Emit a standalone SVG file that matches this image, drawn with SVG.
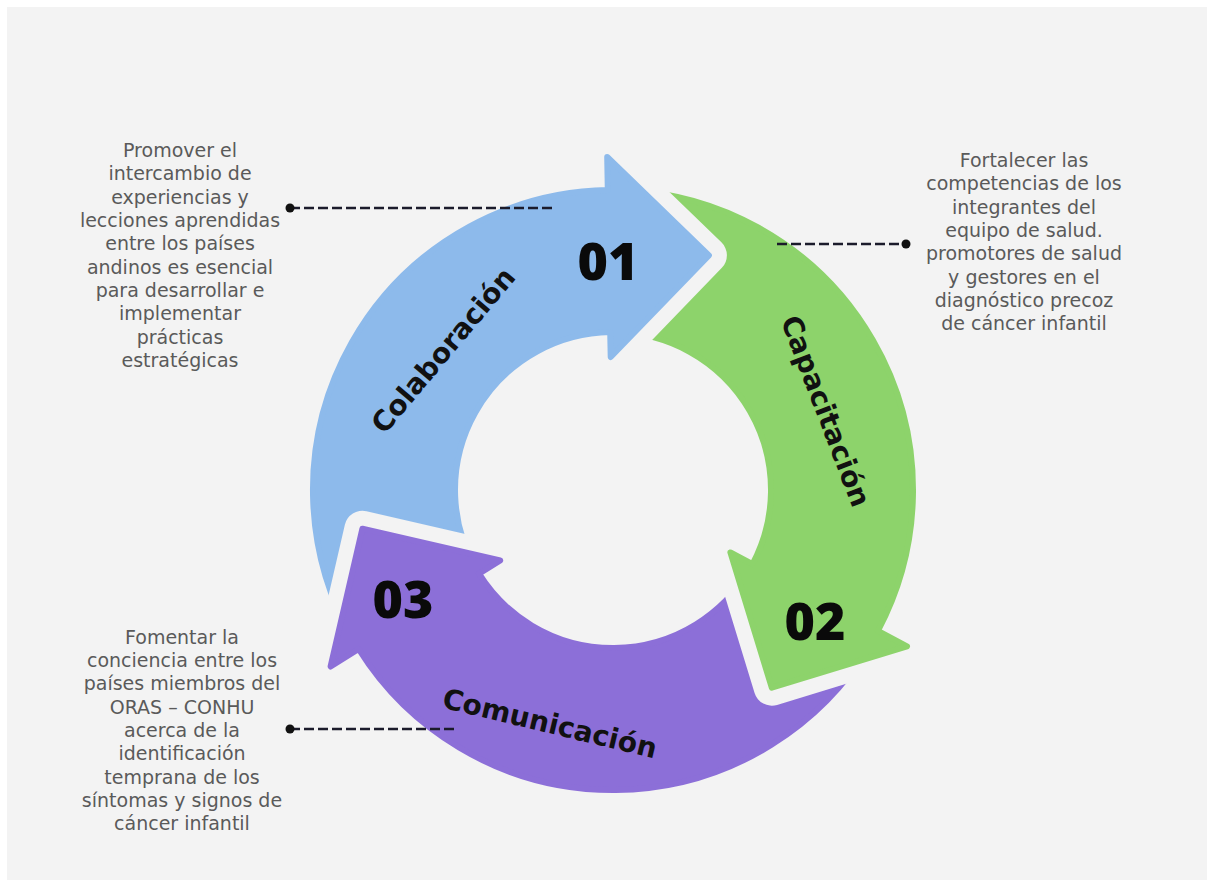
<svg xmlns="http://www.w3.org/2000/svg" width="1212" height="885" viewBox="0 0 1212 885">
<style>
.desc{font-family:"DejaVu Sans","Liberation Sans",sans-serif;font-size:19px;fill:#5a5a5a;text-anchor:middle}
.lbl{font-family:"DejaVu Sans","Liberation Sans",sans-serif;font-weight:bold;font-size:28px;fill:#111;text-anchor:middle}
.num{font-family:"Open Sans","DejaVu Sans",sans-serif;font-weight:800;font-size:52px;fill:#0a0a0a;text-anchor:middle}
.conn{stroke:#1b1b2b;stroke-width:2.6;stroke-dasharray:10 4;fill:none}
.dot{fill:#111}
.halo{fill:none;stroke:#f7f7f7;stroke-width:34;stroke-linejoin:round}
</style>
<defs>
<path id="pBlue" d="M476.2,569.0 L353.2,640.0 A300,300 0 0 1 607.8,190.0 L607.2,157.0 L708.9,255.3 L610.7,357.0 L610.2,332.0 A158,158 0 0 0 476.2,569.0 Z"/>
<path id="pGreen" d="M618.5,332.1 L623.5,190.2 A300,300 0 0 1 877.9,630.8 L907.0,646.3 L771.8,687.7 L730.4,552.4 L752.5,564.2 A158,158 0 0 0 618.5,332.1 Z"/>
<path id="pPurple" d="M748.4,571.4 L870.2,644.5 A300,300 0 0 1 358.6,649.0 L330.6,666.5 L362.4,528.7 L500.2,560.5 L479.0,573.7 A158,158 0 0 0 748.4,571.4 Z"/>
<mask id="mBlue" maskUnits="userSpaceOnUse" x="0" y="0" width="1212" height="885">
<rect x="0" y="0" width="1212" height="885" fill="#fff"/>
<polygon points="330.6,666.5 362.4,528.7 500.2,560.5" fill="#000" stroke="#000" stroke-width="36" stroke-linejoin="round"/>
</mask>
<mask id="mGreen" maskUnits="userSpaceOnUse" x="0" y="0" width="1212" height="885">
<rect x="0" y="0" width="1212" height="885" fill="#fff"/>
<polygon points="607.2,157.0 708.9,255.3 610.7,357.0" fill="#000" stroke="#000" stroke-width="36" stroke-linejoin="round"/>
</mask>
<mask id="mPurple" maskUnits="userSpaceOnUse" x="0" y="0" width="1212" height="885">
<rect x="0" y="0" width="1212" height="885" fill="#fff"/>
<polygon points="907.0,646.3 771.8,687.7 730.4,552.4" fill="#000" stroke="#000" stroke-width="36" stroke-linejoin="round"/>
</mask>
</defs>
<rect x="0" y="0" width="1212" height="885" fill="#ffffff"/>
<rect x="7" y="7" width="1200" height="873" fill="#f3f3f3"/>

<g id="node-colaboracion">
<use href="#pBlue" fill="#8dbaeb" stroke="#8dbaeb" stroke-width="6" stroke-linejoin="round" mask="url(#mBlue)"/>
<text class="lbl" transform="translate(443,350) rotate(-50)" y="10">Colaboración</text>
<text class="num" x="608" y="280">01</text>
</g>

<g id="node-capacitacion">
<use href="#pGreen" fill="#8dd36b" stroke="#8dd36b" stroke-width="6" stroke-linejoin="round" mask="url(#mGreen)"/>
<text class="lbl" transform="translate(826,411) rotate(69)" y="10">Capacitación</text>
<text class="num" x="815" y="640">02</text>
</g>

<g id="node-comunicacion">
<use href="#pPurple" fill="#8c6fd8" stroke="#8c6fd8" stroke-width="6" stroke-linejoin="round" mask="url(#mPurple)"/>
<text class="lbl" transform="translate(550,723) rotate(13.5)" y="10">Comunicación</text>
<text class="num" x="403" y="618">03</text>
</g>

<g id="desc-colaboracion">
<text class="desc" x="180" y="157">Promover el</text>
<text class="desc" x="180" y="180">intercambio de</text>
<text class="desc" x="180" y="203.5">experiencias y</text>
<text class="desc" x="180" y="227">lecciones aprendidas</text>
<text class="desc" x="180" y="250">entre los países</text>
<text class="desc" x="180" y="273.5">andinos es esencial</text>
<text class="desc" x="180" y="297">para desarrollar e</text>
<text class="desc" x="180" y="320">implementar</text>
<text class="desc" x="180" y="343.5">prácticas</text>
<text class="desc" x="180" y="367">estratégicas</text>
</g>

<g id="desc-capacitacion">
<text class="desc" x="1024" y="167">Fortalecer las</text>
<text class="desc" x="1024" y="190">competencias de los</text>
<text class="desc" x="1024" y="213.5">integrantes del</text>
<text class="desc" x="1024" y="237">equipo de salud.</text>
<text class="desc" x="1024" y="260">promotores de salud</text>
<text class="desc" x="1024" y="283.5">y gestores en el</text>
<text class="desc" x="1024" y="307">diagnóstico precoz</text>
<text class="desc" x="1024" y="330">de cáncer infantil</text>
</g>

<g id="desc-comunicacion">
<text class="desc" x="182" y="643.5">Fomentar la</text>
<text class="desc" x="182" y="667">conciencia entre los</text>
<text class="desc" x="182" y="690">países miembros del</text>
<text class="desc" x="182" y="713.5">ORAS – CONHU</text>
<text class="desc" x="182" y="737">acerca de la</text>
<text class="desc" x="182" y="760">identificación</text>
<text class="desc" x="182" y="783.5">temprana de los</text>
<text class="desc" x="182" y="807">síntomas y signos de</text>
<text class="desc" x="182" y="830">cáncer infantil</text>
</g>

<g id="connectors">
<line class="conn" x1="290" y1="208" x2="552" y2="208"/>
<circle class="dot" cx="290" cy="208" r="4.5"/>
<line class="conn" x1="777" y1="244" x2="906" y2="244"/>
<circle class="dot" cx="906" cy="244" r="4.5"/>
<line class="conn" x1="290" y1="729" x2="456" y2="729"/>
<circle class="dot" cx="290" cy="729" r="4.5"/>
</g>
</svg>
